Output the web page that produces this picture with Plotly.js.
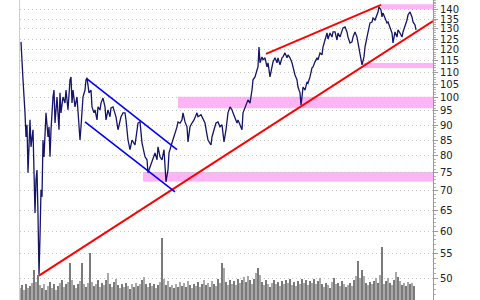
<!DOCTYPE html>
<html>
<head>
<meta charset="utf-8">
<script src="https://cdn.plot.ly/plotly-3.0.1.min.js"></script>
<style>html,body{margin:0;padding:0;background:#fff;}#chart{width:480px;height:300px;}</style>
</head>
<body>
<div id="chart"></div>
<script>
// Price series (trading day index, closing price)
const priceDays = [1,2,3,5,6,7,8,10,11,13,14,15,16,17,18,19,20,21,22,23,24,26,28,29,30,31,33,34,35,37,39,40,41,43,45,46,48,50,51,52,53,55,57,59,60,61,63,65,66,67,69,71,72,74,75,77,78,80,81,83,85,86,88,90,91,93,95,96,98,100,101,103,105,106,108,110,112,115,118,120,122,125,127,128,130,132,135,137,138,140,142,144,146,148,149,152,154,157,158,160,162,163,165,167,168,170,172,174,177,178,181,183,185,187,188,191,192,194,196,198,200,202,204,206,208,210,212,213,217,218,222,223,225,227,228,230,231,232,233,235,237,238,239,240,242,243,245,247,248,250,252,253,255,257,258,260,262,263,265,267,268,270,272,273,275,277,278,280,281,282,283,285,287,288,290,292,293,295,297,298,300,302,303,305,307,308,310,312,313,315,317,318,320,323,325,327,328,330,332,333,335,337,338,340,341,342,344,345,347,348,350,352,353,355,357,358,359,361,362,363,365,367,368,370,372,373,375,377,378,380,382,383,385,387,388,390,392,393,395,396];
const priceValues = [123.7,113.3,107.0,94.3,86.0,90.1,75.0,91.8,82.8,88.4,77.9,64.3,73.0,75.8,63.9,50.8,58.7,70.3,68.4,85.0,79.7,94.3,86.0,89.4,79.7,88.4,100.2,102.9,90.7,100.2,88.4,101.8,94.3,100.2,97.9,102.9,95.4,107.0,108.2,97.9,102.9,96.5,100.2,88.4,85.0,89.4,100.2,102.9,107.0,107.8,101.8,102.9,96.5,94.3,95.4,91.8,96.5,95.4,97.9,99.8,96.5,91.8,95.4,92.9,96.1,96.5,94.3,92.9,88.4,91.8,92.9,94.3,94.3,91.8,85.0,81.9,85.0,83.4,90.7,91.1,84.1,79.7,78.8,75.0,76.7,78.8,80.9,78.8,82.8,79.7,78.8,81.9,72.4,75.8,80.9,84.1,86.0,89.4,91.1,90.7,91.8,94.3,91.1,89.4,84.4,89.4,90.7,91.8,94.3,92.9,93.6,91.8,90.7,86.7,85.0,83.4,86.0,88.4,90.7,91.1,89.4,90.1,84.4,88.4,94.3,96.5,95.4,94.3,90.7,91.8,88.4,94.3,96.1,97.9,99.1,97.9,100.2,102.9,107.0,108.2,111.1,112.4,121.3,114.2,116.8,115.5,116.4,112.4,114.2,108.2,112.4,114.6,116.4,114.2,116.4,113.3,116.4,116.8,118.6,116.4,117.7,116.4,114.2,112.0,109.0,107.0,104.1,101.8,97.2,100.2,104.1,102.9,106.1,105.7,108.2,112.0,112.4,114.6,116.4,115.5,118.6,117.7,121.3,124.6,128.0,125.1,128.0,126.0,128.5,128.5,124.6,128.0,126.0,130.5,131.0,128.5,126.0,123.2,123.7,126.0,128.5,126.0,123.2,118.6,116.8,113.3,116.8,121.3,126.0,128.0,133.0,133.5,135.5,134.5,137.1,138.7,141.4,139.8,136.1,138.2,135.5,133.0,133.5,131.0,128.0,123.2,128.5,126.0,129.5,128.0,126.0,128.5,131.0,134.5,137.1,138.7,136.1,133.5,132.0,129.5];

// Volume (every second trading day)
const volumeDays = [];
for (let d = 0; d <= 394; d += 2) volumeDays.push(d);
const volumeValues = [4,5,3.3,5.3,4,4.7,5.7,10,6,8.3,5,4,5.3,3.3,4.7,6,4,5.3,3.3,4.7,5.7,6.7,4.3,5.3,6,12.3,6.7,5,4,5.3,6.3,12.3,5.3,4.3,5.7,15.7,6,4.7,5.3,6.7,4.3,5.7,5,6.7,9,5.3,4.3,6,7,5,4,5.3,4.3,5.7,4.7,3.7,5.3,4.3,5.7,4.7,5.3,6.7,7.7,5.3,4.3,5.7,4.7,5.3,4,5,6,20.7,7,5,6.3,4.3,5,4,5.3,4.3,6,4.7,5.7,4.3,6.3,5,4,5.3,4.7,6,4.3,5.3,6.7,5,5.7,4.3,6.3,5.3,4.7,7,5.7,12.3,10.7,6,5,6.7,5.3,6.3,5,7,5.7,6.7,7.7,6,8,6.7,5.3,7,9,10.7,8.3,6,5,6.7,5.3,4.3,5.7,6.7,5.3,6,4.7,6.3,5.3,6.7,5.7,7,5,6,4.7,6.3,5.3,7,5.7,6.7,5,6.3,5.7,7,5.3,6.3,7.3,5.3,4.3,5.7,5,4,6,7.3,5.3,5.7,4.7,6.3,5.3,4.3,5,5.7,4.7,6.7,8,13,7.3,10,8,5.7,5,6,5.3,6.3,7.3,5.7,8.3,17.7,5.3,6.3,7.3,5.7,5,6.7,9.3,7.7,6.3,5,5.7,4.7,6,5.3,5.7,4.7];

// Trend lines [startDay, endDay] / [startPrice, endPrice]
const supportDays = [19, 413];
const supportPrices = [50.6, 134.0];
const wedgeTopDays = [246, 361];
const wedgeTopPrices = [118.2, 142.5];
const channelTopDays = [67, 157];
const channelTopPrices = [107.4, 81.9];
const channelBottomDays = [65, 155];
const channelBottomPrices = [91.1, 69.7];

// Highlighted price zones: start day, low price, high price
const zoneStartDays = [123, 158, 343, 361];
const zoneLows = [72.5, 96.0, 111.9, 140.3];
const zoneHighs = [75.2, 100.3, 114.1, 142.9];

// Price axis ticks
const tickValues = [50,55,60,65,70,75,80,85,90,95,100,105,110,115,120,125,130,135,140];
const tickLabels = tickValues.map(String);

const minorTicks = [];
for (let v = 46; v <= 145; v++) minorTicks.push(v);

const volColors = volumeValues.map((v, i) => (i % 2 ? '#7a7a7a' : '#a8a8a8'));

const traces = [
  {type: 'bar', x: volumeDays, y: volumeValues, yaxis: 'y2', width: 2,
   marker: {color: volColors, line: {width: 0}}, hoverinfo: 'skip'},
  {type: 'scatter', mode: 'lines', x: priceDays, y: priceValues,
   line: {color: '#14146a', width: 1.3}},
  {type: 'scatter', mode: 'lines', x: supportDays, y: supportPrices, line: {color: '#ff0000', width: 2}},
  {type: 'scatter', mode: 'lines', x: wedgeTopDays, y: wedgeTopPrices, line: {color: '#ff0000', width: 2}},
  {type: 'scatter', mode: 'lines', x: channelTopDays, y: channelTopPrices, line: {color: '#0000ff', width: 1.6}},
  {type: 'scatter', mode: 'lines', x: channelBottomDays, y: channelBottomPrices, line: {color: '#0000ff', width: 1.6}}
];

const shapes = zoneStartDays.map((d, i) => ({
  type: 'rect', xref: 'x', yref: 'y', x0: d, x1: 413, y0: zoneLows[i], y1: zoneHighs[i],
  fillcolor: '#ffb4f6', line: {width: 0}, layer: 'below'
}));

const layout = {
  width: 480, height: 300,
  margin: {l: 20, r: 47, t: 0, b: 0},
  paper_bgcolor: '#ffffff', plot_bgcolor: '#ffffff',
  showlegend: false,
  font: {family: 'DejaVu Sans', size: 10, color: '#222'},
  xaxis: {range: [0, 413], showgrid: false, zeroline: false, showticklabels: false, ticks: '', showline: false},
  yaxis: {type: 'log', side: 'right', range: [Math.log10(46.1), Math.log10(145.2)],
          tickmode: 'array', tickvals: tickValues, ticktext: tickLabels,
          showgrid: true, gridcolor: '#c4c4c4', griddash: '1px,3px', gridwidth: 1,
          showline: true, linecolor: '#9a9a9a', linewidth: 1,
          ticks: 'outside', ticklen: 4, tickcolor: '#9a9a9a',
          minor: {tickmode: 'array', tickvals: minorTicks, ticks: 'outside', ticklen: 2, tickcolor: '#b0b0b0', showgrid: false},
          zeroline: false, tickfont: {family: 'DejaVu Sans', size: 10, color: '#222'}},
  yaxis2: {overlaying: 'y', side: 'left', range: [0, 100], showgrid: false, zeroline: false,
           showticklabels: false, ticks: '', showline: true, linecolor: '#cfcfcf', linewidth: 1},
  shapes: shapes,
  bargap: 0
};

Plotly.newPlot('chart', traces, layout, {staticPlot: true, displayModeBar: false});
</script>
</body>
</html>
